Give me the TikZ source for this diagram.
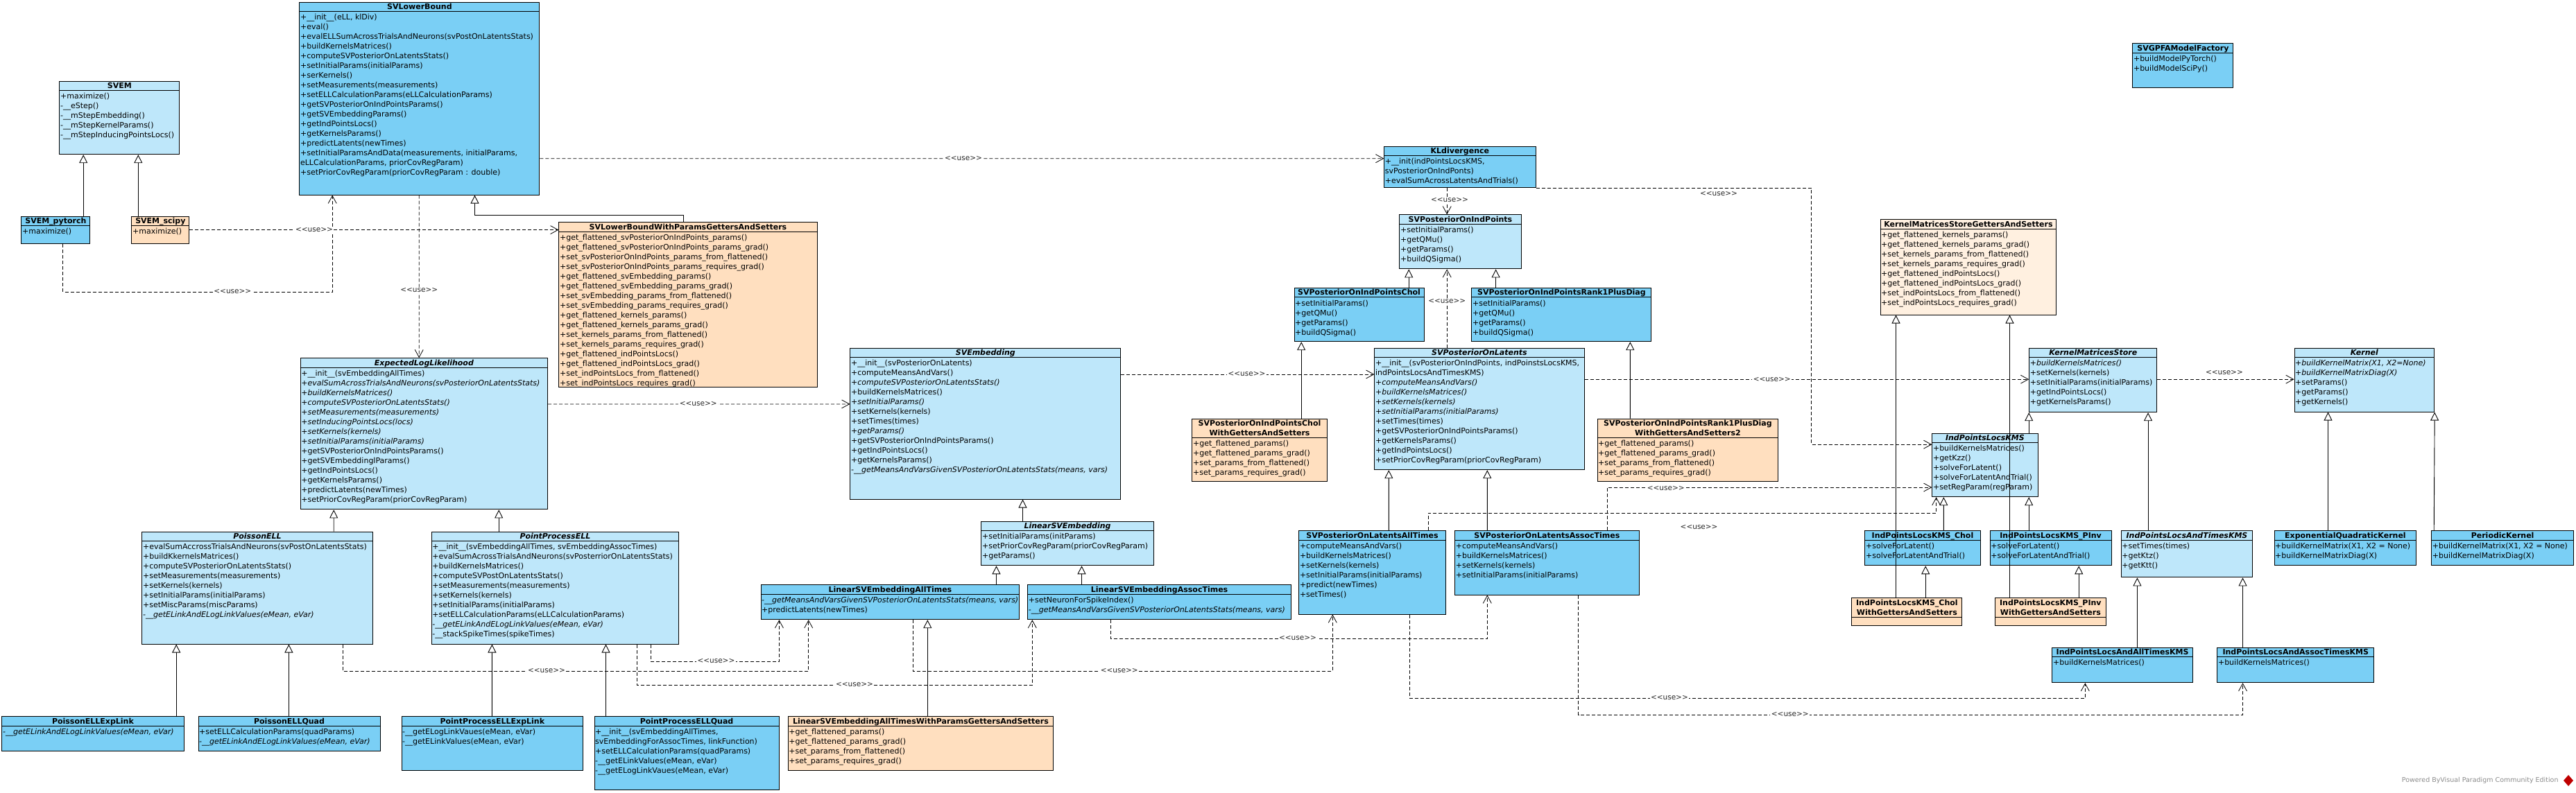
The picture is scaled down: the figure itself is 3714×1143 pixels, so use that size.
\documentclass[tikz,border=0pt]{standalone}
\usepackage{fontspec}
\setmainfont{DejaVu Sans}
\usepackage{tikz}
\usetikzlibrary{arrows.meta,positioning}

\definecolor{classdark}{RGB}{122,207,245}
\definecolor{classlight}{RGB}{190,231,250}
\definecolor{classpeach}{RGB}{255,223,191}
\definecolor{classcream}{RGB}{255,240,224}

\newcommand{\opstrut}{\rule[-3.4pt]{0pt}{14pt}}
\newcommand{\usetxt}{<\kern0pt<use>\kern0pt>}
% name, x/y of top left, width, height, header height, fill, title, operations
\newcommand{\umlclass}[8]{%
  \node[classbox, fill=#6, minimum width=#3pt, minimum height=#4pt] (#1) at (#2) {};
  \draw[classline] ([yshift=-#5pt]#1.north west) -- ([yshift=-#5pt]#1.north east);
  \node[classname, text width=#3pt, minimum height=#5pt] (#1-name) at (#1.north) {\opstrut #7};
  \node[classops] (#1-ops) at ([yshift=-#5pt]#1.north west) {\opstrut #8};
}

\begin{document}
\begin{tikzpicture}[
    x=1pt, y=-1pt,
    every node/.style={font=\fontsize{11pt}{14pt}\selectfont},
    classbox/.style={draw, line width=1pt, anchor=north west, inner sep=0pt},
    classline/.style={line width=1pt},
    classname/.style={anchor=north, inner sep=0pt, align=center, font=\fontsize{11pt}{14pt}\selectfont\bfseries},
    classops/.style={anchor=north west, inner xsep=1.5pt, inner ysep=1.5pt, align=left},
    inherit/.style={-{Triangle[length=12pt, width=12pt, fill=white]}, line width=0.9pt},
    uses/.style={-{Straight Barb[length=11pt, width=12pt]}, line width=0.8pt, dash pattern=on 5pt off 3pt},
    usetag/.style={fill=white, inner sep=1.5pt, font=\fontsize{10.5pt}{12pt}\selectfont, text=black!85}
]
\fill[white] (0,0) rectangle (3714,1143);
\useasboundingbox (0,0) rectangle (3714,1143);

% EM classes
\umlclass{svem}{85.4,116.7}{172.8}{105.5}{13.5}{classlight}{SVEM}
  {+maximize()\\-\_\_eStep()\\-\_\_mStepEmbedding()\\-\_\_mStepKernelParams()\\-\_\_mStepInducingPointsLocs()}
\umlclass{svempt}{30.4,311.6}{98.9}{39.7}{13.8}{classdark}{SVEM\_pytorch}{+maximize()}
\umlclass{svemsp}{189.4,311.6}{83}{39.7}{13.8}{classpeach}{SVEM\_scipy}{+maximize()}

% Lower bound
\umlclass{svlb}{431.4,2.6}{346}{278}{13.8}{classdark}{SVLowerBound}
  {+\_\_init\_\_(eLL, klDiv)\\+eval()\\+evalELLSumAcrossTrialsAndNeurons(svPostOnLatentsStats)\\
   +buildKernelsMatrices()\\+computeSVPosteriorOnLatentsStats()\\+setInitialParams(initialParams)\\
   +serKernels()\\+setMeasurements(measurements)\\+setELLCalculationParams(eLLCalculationParams)\\
   +getSVPosteriorOnIndPointsParams()\\+getSVEmbeddingParams()\\+getIndPointsLocs()\\
   +getKernelsParams()\\+predictLatents(newTimes)\\+setInitialParamsAndData(measurements, initialParams,\\
   eLLCalculationParams, priorCovRegParam)\\+setPriorCovRegParam(priorCovRegParam : double)}
\umlclass{svlbgs}{805.4,320.3}{372.1}{237.2}{13.9}{classpeach}{SVLowerBoundWithParamsGettersAndSetters}
  {+get\_flattened\_svPosteriorOnIndPoints\_params()\\+get\_flattened\_svPosteriorOnIndPoints\_params\_grad()\\
   +set\_svPosteriorOnIndPoints\_params\_from\_flattened()\\+set\_svPosteriorOnIndPoints\_params\_requires\_grad()\\
   +get\_flattened\_svEmbedding\_params()\\+get\_flattened\_svEmbedding\_params\_grad()\\
   +set\_svEmbedding\_params\_from\_flattened()\\+set\_svEmbedding\_params\_requires\_grad()\\
   +get\_flattened\_kernels\_params()\\+get\_flattened\_kernels\_params\_grad()\\
   +set\_kernels\_params\_from\_flattened()\\+set\_kernels\_params\_requires\_grad()\\
   +get\_flattened\_indPointsLocs()\\+get\_flattened\_indPointsLocs\_grad()\\
   +set\_indPointsLocs\_from\_flattened()\\+set\_indPointsLocs\_requires\_grad()}

% Expected log likelihood
\umlclass{ell}{432.6,516.2}{356.6}{218.2}{13.9}{classlight}{\itshape ExpectedLogLikelihood}
  {+\_\_init\_\_(svEmbeddingAllTimes)\\\textit{+evalSumAcrossTrialsAndNeurons(svPosteriorOnLatentsStats)}\\
   \textit{+buildKernelsMatrices()}\\\textit{+computeSVPosteriorOnLatentsStats()}\\
   \textit{+setMeasurements(measurements)}\\\textit{+setInducingPointsLocs(locs)}\\
   \textit{+setKernels(kernels)}\\\textit{+setInitialParams(initialParams)}\\
   +getSVPosteriorOnIndPointsParams()\\+getSVEmbeddinglParams()\\+getIndPointsLocs()\\
   +getKernelsParams()\\+predictLatents(newTimes)\\+setPriorCovRegParam(priorCovRegParam)}
\umlclass{poissonell}{204.4,766.5}{332.2}{162}{13.8}{classlight}{\itshape PoissonELL}
  {+evalSumAccrossTrialsAndNeurons(svPostOnLatentsStats)\\+buildKkernelsMatrices()\\
   +computeSVPosteriorOnLatentsStats()\\+setMeasurements(measurements)\\+setKernels(kernels)\\
   +setInitialParams(initialParams)\\+setMiscParams(miscParams)\\\textit{-\_\_getELinkAndELogLinkValues(eMean, eVar)}}
\umlclass{poissonexp}{2.4,1033.4}{262.1}{49.9}{13.8}{classdark}{PoissonELLExpLink}
  {\textit{-\_\_getELinkAndELogLinkValues(eMean, eVar)}}
\umlclass{poissonquad}{285.5,1033.4}{262.1}{49.9}{13.8}{classdark}{PoissonELLQuad}
  {+setELLCalculationParams(quadParams)\\\textit{-\_\_getELinkAndELogLinkValues(eMean, eVar)}}
\umlclass{ppell}{621.6,766.5}{356.6}{162}{13.8}{classlight}{\itshape PointProcessELL}
  {+\_\_init\_\_(svEmbeddingAllTimes, svEmbeddingAssocTimes)\\
   +evalSumAcrossTrialsAndNeurons(svPosterriorOnLatentsStats)\\+buildKernelsMatrices()\\
   +computeSVPostOnLatentsStats()\\+setMeasurements(measurements)\\+setKernels(kernels)\\
   +setInitialParams(initialParams)\\+setELLCalculationParams(eLLCalculationParams)\\
   \textit{-\_\_getELinkAndELogLinkValues(eMean, eVar)}\\-\_\_stackSpikeTimes(spikeTimes)}
\umlclass{ppexp}{578.5,1033.4}{261.7}{77.9}{13.8}{classdark}{PointProcessELLExpLink}
  {-\_\_getELogLinkVaues(eMean, eVar)\\-\_\_getELinkValues(eMean, eVar)}
\umlclass{ppquad}{856.5,1033.4}{266.1}{105.6}{13.8}{classdark}{PointProcessELLQuad}
  {+\_\_init\_\_(svEmbeddingAllTimes,\\svEmbeddingForAssocTimes, linkFunction)\\
   +setELLCalculationParams(quadParams)\\-\_\_getELinkValues(eMean, eVar)\\-\_\_getELogLinkVaues(eMean, eVar)}

% Embedding
\umlclass{svemb}{1225.4,501.6}{389.8}{217.9}{13.9}{classlight}{\itshape SVEmbedding}
  {+\_\_init\_\_(svPosteriorOnLatents)\\+computeMeansAndVars()\\\textit{+computeSVPosteriorOnLatentsStats()}\\
   +buildKernelsMatrices()\\\textit{+setInitialParams()}\\+setKernels(kernels)\\+setTimes(times)\\
   \textit{+getParams()}\\+getSVPosteriorOnIndPointsParams()\\+getIndPointsLocs()\\+getKernelsParams()\\
   \textit{-\_\_getMeansAndVarsGivenSVPosteriorOnLatentsStats(means, vars)}}
\umlclass{linemb}{1414.4,751.5}{248.3}{63.8}{13.9}{classlight}{\itshape LinearSVEmbedding}
  {+setInitialParams(initParams)\\+setPriorCovRegParam(priorCovRegParam)\\+getParams()}
\umlclass{linall}{1096.5,843.3}{372.8}{49.9}{13.8}{classdark}{LinearSVEmbeddingAllTimes}
  {\textit{-\_\_getMeansAndVarsGivenSVPosteriorOnLatentsStats(means, vars)}\\+predictLatents(newTimes)}
\umlclass{linassoc}{1481.2,843.3}{379.8}{49.9}{13.8}{classdark}{LinearSVEmbeddingAssocTimes}
  {+setNeuronForSpikeIndex()\\\textit{-\_\_getMeansAndVarsGivenSVPosteriorOnLatentsStats(means, vars)}}
\umlclass{linallgs}{1135.6,1033.4}{382.8}{77.9}{13.8}{classpeach}{LinearSVEmbeddingAllTimesWithParamsGettersAndSetters}
  {+get\_flattened\_params()\\+get\_flattened\_params\_grad()\\+set\_params\_from\_flattened()\\+set\_params\_requires\_grad()}

% KL divergence and posteriors
\umlclass{kl}{1995.2,210.5}{218.3}{59.8}{13.9}{classdark}{KLdivergence}
  {+\_\_init(indPointsLocsKMS,\\svPosteriorOnIndPonts)\\+evalSumAcrossLatentsAndTrials()}
\umlclass{svpip}{2017.4,309.4}{175.1}{78}{13.8}{classlight}{SVPosteriorOnIndPoints}
  {+setInitialParams()\\+getQMu()\\+getParams()\\+buildQSigma()}
\umlclass{svpipchol}{1865.5,414.8}{187.1}{77.4}{13.9}{classdark}{SVPosteriorOnIndPointsChol}
  {+setInitialParams()\\+getQMu()\\+getParams()\\+buildQSigma()}
\umlclass{svpiprank1}{2121.4,414.8}{259}{77.4}{13.9}{classdark}{SVPosteriorOnIndPointsRank1PlusDiag}
  {+setInitialParams()\\+getQMu()\\+getParams()\\+buildQSigma()}
\umlclass{svpipcholgs}{1718.4,603.7}{194.2}{90.7}{27.7}{classpeach}{SVPosteriorOnIndPointsChol\\\opstrut WithGettersAndSetters}
  {+get\_flattened\_params()\\+get\_flattened\_params\_grad()\\+set\_params\_from\_flattened()\\+set\_params\_requires\_grad()}
\umlclass{svpiprank1gs}{2302.5,603.7}{260.9}{90.7}{27.7}{classpeach}{SVPosteriorOnIndPointsRank1PlusDiag\\\opstrut WithGettersAndSetters2}
  {+get\_flattened\_params()\\+get\_flattened\_params\_grad()\\+set\_params\_from\_flattened()\\+set\_params\_requires\_grad()}
\umlclass{svpl}{1981.4,501.6}{302.1}{175.6}{13.9}{classlight}{\itshape SVPosteriorOnLatents}
  {+\_\_init\_\_(svPosteriorOnIndPoints, indPoinstsLocsKMS,\\indPointsLocsAndTimesKMS)\\
   \textit{+computeMeansAndVars()}\\\textit{+buildKernelsMatrices()}\\\textit{+setKernels(kernels)}\\
   \textit{+setInitialParams(initialParams)}\\+setTimes(times)\\+getSVPosteriorOnIndPointsParams()\\
   +getKernelsParams()\\+getIndPointsLocs()\\+setPriorCovRegParam(priorCovRegParam)}
\umlclass{svplall}{1872.3,765.4}{211.5}{120.1}{13.8}{classdark}{SVPosteriorOnLatentsAllTimes}
  {+computeMeansAndVars()\\+buildKernelsMatrices()\\+setKernels(kernels)\\
   +setInitialParams(initialParams)\\+predict(newTimes)\\+setTimes()}
\umlclass{svplassoc}{2097.2,765.4}{265.4}{92.1}{13.8}{classdark}{SVPosteriorOnLatentsAssocTimes}
  {+computeMeansAndVars()\\+buildKernelsMatrices()\\+setKernels(kernels)\\+setInitialParams(initialParams)}

% Kernel matrices stores
\umlclass{kmsgs}{2710.5,316.3}{253.9}{137.2}{14.2}{classcream}{KernelMatricesStoreGettersAndSetters}
  {+get\_flattened\_kernels\_params()\\+get\_flattened\_kernels\_params\_grad()\\
   +set\_kernels\_params\_from\_flattened()\\+set\_kernels\_params\_requires\_grad()\\
   +get\_flattened\_indPointsLocs()\\+get\_flattened\_indPointsLocs\_grad()\\
   +set\_indPointsLocs\_from\_flattened()\\+set\_indPointsLocs\_requires\_grad()}
\umlclass{factory}{3074.3,62.4}{145.1}{63.8}{13.8}{classdark}{SVGPFAModelFactory}
  {+buildModelPyTorch()\\+buildModelSciPy()}
\umlclass{kms}{2925.2,501.6}{184.2}{92.6}{13.9}{classlight}{\itshape KernelMatricesStore}
  {\textit{+buildKernelsMatrices()}\\+setKernels(kernels)\\+setInitialParams(initialParams)\\
   +getIndPointsLocs()\\+getKernelsParams()}
\umlclass{kernel}{3307.5,501.6}{201.7}{92}{13.9}{classlight}{\itshape Kernel}
  {\textit{+buildKernelMatrix(X1, X2=None)}\\\textit{+buildKernelMatrixDiag(X)}\\+setParams()\\+getParams()\\+getKernels()}
\umlclass{ipkms}{2785.3,624.8}{152.2}{91.4}{13.8}{classlight}{\itshape IndPointsLocsKMS}
  {+buildKernelsMatrices()\\+getKzz()\\+solveForLatent()\\+solveForLatentAndTrial()\\+setRegParam(regParam)}
\umlclass{ipchol}{2688.4,765.4}{166.1}{49.9}{13.8}{classdark}{IndPointsLocsKMS\_Chol}
  {+solveForLatent()\\+solveForLatentAndTrial()}
\umlclass{ippinv}{2868.7,765.4}{174.8}{49.9}{13.8}{classdark}{IndPointsLocsKMS\_PInv}
  {+solveForLatent()\\+solveForLatentAndTrial()}
\umlclass{ipcholgs}{2669.4,862.3}{159}{40}{28.3}{classpeach}{IndPointsLocsKMS\_Chol\\\opstrut WithGettersAndSetters}{}
\umlclass{ippinvgs}{2876.2,862.3}{159.3}{40}{28.3}{classpeach}{IndPointsLocsKMS\_PInv\\\opstrut WithGettersAndSetters}{}
\umlclass{iptimes}{3057.7,765.4}{189.5}{67}{13.8}{classlight}{\itshape IndPointsLocsAndTimesKMS}
  {+setTimes(times)\\+getKtz()\\+getKtt()}
\umlclass{ipall}{2958.4,933.6}{202.3}{50.6}{13.9}{classdark}{IndPointsLocsAndAllTimesKMS}
  {+buildKernelsMatrices()}
\umlclass{ipassoc}{3196.3,933.6}{225.9}{50.6}{13.9}{classdark}{IndPointsLocsAndAssocTimesKMS}
  {+buildKernelsMatrices()}
\umlclass{expquad}{3278.5,765.4}{204.8}{49.9}{13.8}{classdark}{ExponentialQuadraticKernel}
  {+buildKernelMatrix(X1, X2 = None)\\+buildKernelMatrixDiag(X)}
\umlclass{periodic}{3505.2,765.4}{204.8}{49.9}{13.8}{classdark}{PeriodicKernel}
  {+buildKernelMatrix(X1, X2 = None)\\+buildKernelMatrixDiag(X)}

% Generalisations
\draw[inherit] ([xshift=89.8pt]svempt.north west) -- ([xshift=34.8pt]svem.south west);
\draw[inherit] ([xshift=9.9pt]svemsp.north west) -- ([xshift=113.9pt]svem.south west);
\draw[inherit] ([xshift=180pt]svlbgs.north west) -- ++(0,-10.2) -| ([xshift=253.1pt]svlb.south west);
\draw[inherit] ([xshift=276.8pt]poissonell.north west) -- ([xshift=48.6pt]ell.south west);
\draw[inherit] ([xshift=97.6pt]ppell.north west) -- ([xshift=286.6pt]ell.south west);
\draw[inherit] ([xshift=251.8pt]poissonexp.north west) -- ([xshift=49.8pt]poissonell.south west);
\draw[inherit] ([xshift=130.9pt]poissonquad.north west) -- ([xshift=212pt]poissonell.south west);
\draw[inherit] ([xshift=130.9pt]ppexp.north west) -- ([xshift=87.8pt]ppell.south west);
\draw[inherit] ([xshift=17pt]ppquad.north west) -- ([xshift=251.9pt]ppell.south west);
\draw[inherit] ([xshift=60.1pt]linemb.north west) -- ([xshift=249.1pt]svemb.south west);
\draw[inherit] ([xshift=340pt]linall.north west) -- ([xshift=22.1pt]linemb.south west);
\draw[inherit] ([xshift=78.3pt]linassoc.north west) -- ([xshift=145.1pt]linemb.south west);
\draw[inherit] ([xshift=201.7pt]linallgs.north west) -- ([xshift=240.8pt]linall.south west);
\draw[inherit] ([xshift=165.7pt]svpipchol.north west) -- ([xshift=13.8pt]svpip.south west);
\draw[inherit] ([xshift=35.2pt]svpiprank1.north west) -- ([xshift=139.2pt]svpip.south west);
\draw[inherit] ([xshift=157.8pt]svpipcholgs.north west) -- ([xshift=10.7pt]svpipchol.south west);
\draw[inherit] ([xshift=47.8pt]svpiprank1gs.north west) -- ([xshift=228.9pt]svpiprank1.south west);
\draw[inherit] ([xshift=130pt]svplall.north west) -- ([xshift=20.9pt]svpl.south west);
\draw[inherit] ([xshift=47.1pt]svplassoc.north west) -- ([xshift=162.9pt]svpl.south west);
\draw[inherit] ([xshift=139.9pt]ipkms.north west) -- (kms.south west);
\draw[inherit] ([xshift=113.9pt]ipchol.north west) -- ([xshift=17pt]ipkms.south west);
\draw[inherit] ([xshift=56.5pt]ippinv.north west) -- ([xshift=139.9pt]ipkms.south west);
\draw[inherit] ([xshift=106.8pt]ipcholgs.north west) -- ([xshift=87.8pt]ipchol.south west);
\draw[inherit] ([xshift=121pt]ippinvgs.north west) -- ([xshift=128.5pt]ippinv.south west);
\draw[inherit] ([xshift=64.1pt]ipcholgs.north west) -- ([xshift=23pt]kmsgs.south west);
\draw[inherit] ([xshift=21.3pt]ippinvgs.north west) -- ([xshift=187pt]kmsgs.south west);
\draw[inherit] ([xshift=39.3pt]iptimes.north west) -- ([xshift=171.8pt]kms.south west);
\draw[inherit] ([xshift=123pt]ipall.north west) -- ([xshift=23.7pt]iptimes.south west);
\draw[inherit] ([xshift=37.2pt]ipassoc.north west) -- ([xshift=175.8pt]iptimes.south west);
\draw[inherit] ([xshift=78pt]expquad.north west) -- ([xshift=49pt]kernel.south west);
\draw[inherit] ([xshift=4pt]periodic.north west) -- (kernel.south east);

% Dependencies
\draw[uses] ([xshift=60.1pt]svempt.south west) -- ++(0,69) -| ([xshift=47.8pt]svlb.south west);
\draw[uses] ([yshift=-20pt]svemsp.north east) -- ([yshift=-11.3pt]svlbgs.north west);
\draw[uses] ([xshift=172.8pt]svlb.south west) -- ([xshift=171.6pt]ell.north west);
\draw[uses] ([yshift=-226.1pt]svlb.north east) -- ([yshift=-18.2pt]kl.north west);
\draw[uses] ([xshift=91pt]kl.south west) -- ([xshift=68.8pt]svpip.north west);
\draw[uses] (kl.south east) -- ++(397.3,0) |- ([yshift=-16.4pt]ipkms.north west);
\draw[uses] ([xshift=104.8pt]svpl.north west) -- ([xshift=68.8pt]svpip.south west);
\draw[uses] ([yshift=-38.4pt]svemb.north east) -- ([yshift=-38.4pt]svpl.north west);
\draw[uses] ([yshift=-45.6pt]svpl.north east) -- ([yshift=-45.6pt]kms.north west);
\draw[uses] ([yshift=-45.6pt]kms.north east) -- ([yshift=-45.6pt]kernel.north west);
\draw[uses] ([yshift=-66.7pt]ell.north east) -- ([yshift=-81.3pt]svemb.north west);
\draw[uses] ([xshift=289.9pt]poissonell.south west) -- ++(0,38.6) -| ([xshift=69.2pt]linall.south west);
\draw[uses] ([xshift=316.7pt]ppell.south west) -- ++(0,24.8) -| ([xshift=26.9pt]linall.south west);
\draw[uses] ([xshift=296.9pt]ppell.south west) -- ++(0,58.6) -| ([xshift=7.1pt]linassoc.south west);
\draw[uses] ([xshift=219.8pt]linall.south west) -- ++(0,73.9) -| ([xshift=49pt]svplall.south west);
\draw[uses] ([xshift=120.2pt]linassoc.south west) -- ++(0,27.3) -| ([xshift=47.1pt]svplassoc.south west);
\draw[uses] ([xshift=220.3pt]svplassoc.north west) |- ([yshift=-78.3pt]ipkms.north west);
\draw[uses] ([xshift=187pt]svplall.north west) -- ++(0,-25.2) -| ([xshift=6.3pt]ipkms.south west);
\draw[uses] ([xshift=160.1pt]svplall.south west) -- ++(0,120.9) -| ([xshift=47.9pt]ipall.south west);
\draw[uses] ([xshift=178.4pt]svplassoc.south west) -- ++(0,172.6) -| ([xshift=37.2pt]ipassoc.south west);

% Stereotype labels
\node[usetag] (use1) at (335.3,420.3) {\usetxt};
\node[usetag] (use2) at (453,331.6) {\usetxt};
\node[usetag] (use3) at (604.2,418.5) {\usetxt};
\node[usetag] (use4) at (1389,228.7) {\usetxt};
\node[usetag] (use5) at (2090,288.6) {\usetxt};
\node[usetag] (use6) at (2478,280) {\usetxt};
\node[usetag] (use7) at (2086.2,434.5) {\usetxt};
\node[usetag] (use8) at (1797.5,540) {\usetxt};
\node[usetag] (use9) at (2554.7,547.2) {\usetxt};
\node[usetag] (use10) at (3206.9,537.4) {\usetxt};
\node[usetag] (use11) at (1006.7,582.9) {\usetxt};
\node[usetag] (use12) at (788,967.1) {\usetxt};
\node[usetag] (use13) at (1032.4,953.3) {\usetxt};
\node[usetag] (use14) at (1232,987.1) {\usetxt};
\node[usetag] (use15) at (1613.7,967.1) {\usetxt};
\node[usetag] (use16) at (1871,920.5) {\usetxt};
\node[usetag] (use17) at (2401.7,705) {\usetxt};
\node[usetag] (use18) at (2449.6,760.6) {\usetxt};
\node[usetag] (use19) at (2406.9,1006.4) {\usetxt};
\node[usetag] (use20) at (2580.8,1030.1) {\usetxt};

% Footer
\node[font=\fontsize{9.5pt}{11pt}\selectfont, text=black!45, anchor=east] (credit) at (3692,1126) {Powered ByVisual Paradigm Community Edition};
\fill[red!75!black] (3703,1118) -- (3710,1126) -- (3703,1134) -- (3696,1126) -- cycle;
\end{tikzpicture}
\end{document}
